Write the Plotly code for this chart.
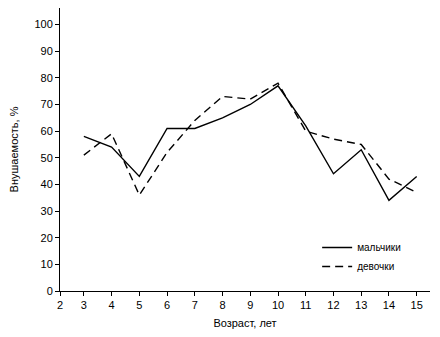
import plotly.graph_objects as go

ages = [3, 4, 5, 6, 7, 8, 9, 10, 11, 12, 13, 14, 15]
boys = [58, 54, 43, 61, 61, 65, 70, 77, 62, 44, 53, 34, 43]
girls = [51, 59, 36, 52, 64, 73, 72, 78, 60, 57, 55, 42, 37]
x_tick_labels = ["2", "3", "4", "5", "6", "7", "8", "9", "10", "11", "12", "13", "14", "15"]
y_ticks = [0, 10, 20, 30, 40, 50, 60, 70, 80, 90, 100]

FONT = "Liberation Sans Narrow, Arial Narrow, Liberation Sans, sans-serif"

fig = go.Figure()
fig.add_trace(go.Scatter(x=ages, y=boys, mode="lines", name="мальчики",
                         line=dict(color="black", width=1.4)))
fig.add_trace(go.Scatter(x=ages, y=girls, mode="lines", name="девочки",
                         line=dict(color="black", width=1.4, dash="8px,5px")))

x0 = 2.14
fig.update_layout(
    width=440, height=337,
    margin=dict(l=60, r=10, t=8, b=46),
    plot_bgcolor="white", paper_bgcolor="white",
    font=dict(family=FONT, size=11, color="black"),
    xaxis=dict(range=[x0, 15.48], tickvals=[x0] + ages, ticktext=x_tick_labels,
               showgrid=False, zeroline=False, showline=True, linecolor="black",
               linewidth=1, ticks="outside", ticklen=4, tickcolor="black",
               title=dict(text="Возраст, лет", font=dict(size=11), standoff=9)),
    yaxis=dict(range=[0, 106.2], tickvals=y_ticks, showgrid=False, zeroline=False,
               showline=True, linecolor="black", linewidth=1, ticks="outside",
               ticklen=4, tickcolor="black",
               title=dict(text="Внушаемость, %", font=dict(size=11), standoff=13)),
    legend=dict(x=0.695, y=0.205, xanchor="left", yanchor="top",
                bgcolor="rgba(0,0,0,0)", font=dict(size=10), tracegroupgap=0,
                itemwidth=30),
    showlegend=True,
)
fig.write_html("out.html")
